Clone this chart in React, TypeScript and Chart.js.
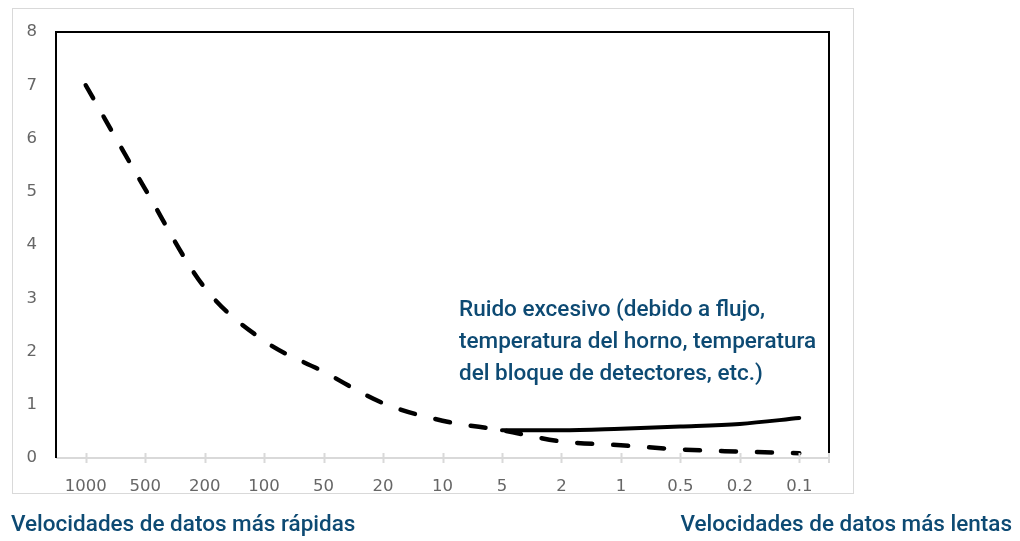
import React, { useEffect, useRef } from "react";
import { Chart, registerables } from "chart.js";

Chart.register(...registerables);

const categories = ["1000", "500", "200", "100", "50", "20", "10", "5", "2", "1", "0.5", "0.2", "0.1"];
const dashedSeries = [7.0, 5.05, 3.2, 2.2, 1.62, 1.03, 0.7, 0.52, 0.31, 0.24, 0.16, 0.12, 0.09];
const solidSeries = [null, null, null, null, null, null, null, 0.52, 0.52, 0.55, 0.59, 0.64, 0.75];
const yTicks = [0, 1, 2, 3, 4, 5, 6, 7, 8];
const annotationLines = [
  "Ruido excesivo (debido a flujo,",
  "temperatura del horno, temperatura",
  "del bloque de detectores, etc.)",
];
const leftLabel = "Velocidades de datos más rápidas";
const rightLabel = "Velocidades de datos más lentas";

const BLUE = "#0d4a73";

const framePlugin = {
  id: "framePlugin",
  beforeDraw(chart: any) {
    const ctx = chart.ctx;
    ctx.save();
    ctx.fillStyle = "#ffffff";
    ctx.fillRect(0, 0, chart.width, chart.height);
    ctx.strokeStyle = "#d9d9d9";
    ctx.lineWidth = 1;
    ctx.strokeRect(12.5, 8.5, 841, 485);
    ctx.restore();
  },
  afterDatasetsDraw(chart: any) {
    const ctx = chart.ctx;
    const a = chart.chartArea;
    const xs = chart.scales.x;
    ctx.save();
    ctx.strokeStyle = "#d9d9d9";
    ctx.lineWidth = 2;
    ctx.beginPath();
    ctx.moveTo(a.left, a.bottom);
    ctx.lineTo(a.right, a.bottom);
    for (let i = 0; i < categories.length; i++) {
      const px = Math.round(xs.getPixelForTick(i)) + 0.5;
      ctx.moveTo(px, a.bottom - 5);
      ctx.lineTo(px, a.bottom + 5);
    }
    ctx.moveTo(a.right, a.bottom - 5);
    ctx.lineTo(a.right, a.bottom + 5);
    ctx.stroke();
    ctx.strokeStyle = "#000000";
    ctx.lineWidth = 2;
    ctx.beginPath();
    ctx.moveTo(a.left, a.bottom);
    ctx.lineTo(a.left, a.top);
    ctx.lineTo(a.right, a.top);
    ctx.lineTo(a.right, a.bottom - 5);
    ctx.stroke();
    ctx.restore();
  },
};

export default function App() {
  const ref = useRef<HTMLCanvasElement | null>(null);
  useEffect(() => {
    document.body.style.margin = "0";
    const canvas = ref.current;
    if (!canvas) return;
    const chart = new Chart(canvas, {
      type: "line",
      data: {
        labels: categories,
        datasets: [
          {
            data: dashedSeries,
            borderColor: "#000000",
            borderWidth: 4.5,
            borderDash: [15, 21],
            borderCapStyle: "round",
            pointRadius: 0,
            cubicInterpolationMode: "monotone",
            fill: false,
          },
          {
            data: solidSeries as any,
            borderColor: "#000000",
            borderWidth: 4,
            borderCapStyle: "round",
            pointRadius: 0,
            cubicInterpolationMode: "monotone",
            fill: false,
            spanGaps: false,
          },
        ],
      },
      options: {
        responsive: false,
        animation: false,
        devicePixelRatio: 1,
        layout: { padding: { left: 12, top: 32, right: 191, bottom: 43 } },
        plugins: { legend: { display: false }, tooltip: { enabled: false }, title: { display: false } },
        scales: {
          x: {
            type: "category",
            offset: true,
            grid: { display: false, drawTicks: false },
            border: { display: false },
            ticks: {
              color: "#666666",
              font: { family: "DejaVu Sans", size: 16.5 },
              padding: 19,
              maxRotation: 0,
              autoSkip: false,
            },
            afterFit(scale: any) {
              scale.height = 40;
            },
          },
          y: {
            min: 0,
            max: 8,
            afterBuildTicks(scale: any) {
              scale.ticks = yTicks.map((v) => ({ value: v }));
            },
            grid: { display: false, drawTicks: false },
            border: { display: false },
            ticks: {
              color: "#666666",
              font: { family: "DejaVu Sans", size: 16.5 },
              padding: 19,
            },
            afterFit(scale: any) {
              scale.width = 44;
            },
          },
        },
      },
      plugins: [framePlugin],
    } as any);
    return () => chart.destroy();
  }, []);

  const textStyle: React.CSSProperties = {
    position: "absolute",
    fontFamily: "Roboto, sans-serif",
    fontWeight: 500,
    fontSize: "22.5px",
    color: BLUE,
    whiteSpace: "nowrap",
    margin: 0,
  };

  return (
    <div style={{ position: "absolute", left: 0, top: 0, width: 1020, height: 541, background: "#fff" }}>
      <canvas ref={ref} width={1020} height={541} style={{ position: "absolute", left: 0, top: 0, width: 1020, height: 541 }} />
      <div style={{ ...textStyle, left: 459, top: 292, lineHeight: "32px" }}>
        {annotationLines.map((l, i) => (
          <div key={i}>{l}</div>
        ))}
      </div>
      <div style={{ ...textStyle, left: 11, top: 508, lineHeight: "30px" }}>{leftLabel}</div>
      <div style={{ ...textStyle, right: 8, top: 508, lineHeight: "30px" }}>{rightLabel}</div>
    </div>
  );
}
